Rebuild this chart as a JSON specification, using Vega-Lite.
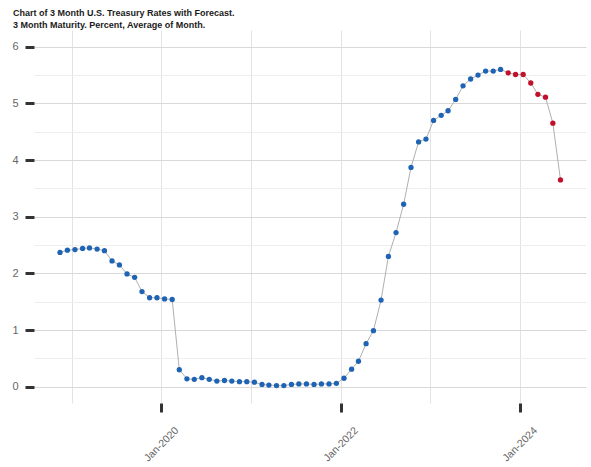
{
  "$schema": "https://vega.github.io/schema/vega-lite/v6.json",
  "width": 552,
  "height": 373,
  "autosize": {"type": "none"},
  "padding": {"left": 34, "top": 30, "right": 5, "bottom": 64},
  "title": {
    "text": ["Chart of 3 Month U.S. Treasury Rates with Forecast.", "3 Month Maturity. Percent, Average of Month."],
    "anchor": "start",
    "frame": "group",
    "font": "Liberation Sans",
    "fontSize": 9,
    "fontWeight": "bold",
    "color": "#1a1a1a",
    "lineHeight": 12,
    "dx": -21,
    "offset": 0
  },
  "config": {"view": {"stroke": null}, "font": "Liberation Sans"},
  "data": {
    "values": [
      {"date": "2018-11-15", "rate": 2.37, "type": "Actual"},
      {"date": "2018-12-15", "rate": 2.41, "type": "Actual"},
      {"date": "2019-01-15", "rate": 2.42, "type": "Actual"},
      {"date": "2019-02-15", "rate": 2.44, "type": "Actual"},
      {"date": "2019-03-15", "rate": 2.45, "type": "Actual"},
      {"date": "2019-04-15", "rate": 2.43, "type": "Actual"},
      {"date": "2019-05-15", "rate": 2.40, "type": "Actual"},
      {"date": "2019-06-15", "rate": 2.22, "type": "Actual"},
      {"date": "2019-07-15", "rate": 2.15, "type": "Actual"},
      {"date": "2019-08-15", "rate": 1.99, "type": "Actual"},
      {"date": "2019-09-15", "rate": 1.93, "type": "Actual"},
      {"date": "2019-10-15", "rate": 1.68, "type": "Actual"},
      {"date": "2019-11-15", "rate": 1.57, "type": "Actual"},
      {"date": "2019-12-15", "rate": 1.57, "type": "Actual"},
      {"date": "2020-01-15", "rate": 1.55, "type": "Actual"},
      {"date": "2020-02-15", "rate": 1.54, "type": "Actual"},
      {"date": "2020-03-15", "rate": 0.30, "type": "Actual"},
      {"date": "2020-04-15", "rate": 0.14, "type": "Actual"},
      {"date": "2020-05-15", "rate": 0.13, "type": "Actual"},
      {"date": "2020-06-15", "rate": 0.16, "type": "Actual"},
      {"date": "2020-07-15", "rate": 0.13, "type": "Actual"},
      {"date": "2020-08-15", "rate": 0.10, "type": "Actual"},
      {"date": "2020-09-15", "rate": 0.11, "type": "Actual"},
      {"date": "2020-10-15", "rate": 0.10, "type": "Actual"},
      {"date": "2020-11-15", "rate": 0.09, "type": "Actual"},
      {"date": "2020-12-15", "rate": 0.09, "type": "Actual"},
      {"date": "2021-01-15", "rate": 0.08, "type": "Actual"},
      {"date": "2021-02-15", "rate": 0.04, "type": "Actual"},
      {"date": "2021-03-15", "rate": 0.03, "type": "Actual"},
      {"date": "2021-04-15", "rate": 0.02, "type": "Actual"},
      {"date": "2021-05-15", "rate": 0.02, "type": "Actual"},
      {"date": "2021-06-15", "rate": 0.04, "type": "Actual"},
      {"date": "2021-07-15", "rate": 0.05, "type": "Actual"},
      {"date": "2021-08-15", "rate": 0.05, "type": "Actual"},
      {"date": "2021-09-15", "rate": 0.04, "type": "Actual"},
      {"date": "2021-10-15", "rate": 0.05, "type": "Actual"},
      {"date": "2021-11-15", "rate": 0.05, "type": "Actual"},
      {"date": "2021-12-15", "rate": 0.06, "type": "Actual"},
      {"date": "2022-01-15", "rate": 0.15, "type": "Actual"},
      {"date": "2022-02-15", "rate": 0.31, "type": "Actual"},
      {"date": "2022-03-15", "rate": 0.45, "type": "Actual"},
      {"date": "2022-04-15", "rate": 0.76, "type": "Actual"},
      {"date": "2022-05-15", "rate": 0.99, "type": "Actual"},
      {"date": "2022-06-15", "rate": 1.53, "type": "Actual"},
      {"date": "2022-07-15", "rate": 2.30, "type": "Actual"},
      {"date": "2022-08-15", "rate": 2.72, "type": "Actual"},
      {"date": "2022-09-15", "rate": 3.22, "type": "Actual"},
      {"date": "2022-10-15", "rate": 3.87, "type": "Actual"},
      {"date": "2022-11-15", "rate": 4.32, "type": "Actual"},
      {"date": "2022-12-15", "rate": 4.37, "type": "Actual"},
      {"date": "2023-01-15", "rate": 4.70, "type": "Actual"},
      {"date": "2023-02-15", "rate": 4.79, "type": "Actual"},
      {"date": "2023-03-15", "rate": 4.87, "type": "Actual"},
      {"date": "2023-04-15", "rate": 5.07, "type": "Actual"},
      {"date": "2023-05-15", "rate": 5.31, "type": "Actual"},
      {"date": "2023-06-15", "rate": 5.43, "type": "Actual"},
      {"date": "2023-07-15", "rate": 5.50, "type": "Actual"},
      {"date": "2023-08-15", "rate": 5.57, "type": "Actual"},
      {"date": "2023-09-15", "rate": 5.57, "type": "Actual"},
      {"date": "2023-10-15", "rate": 5.60, "type": "Actual"},
      {"date": "2023-11-15", "rate": 5.54, "type": "Forecast"},
      {"date": "2023-12-15", "rate": 5.51, "type": "Forecast"},
      {"date": "2024-01-15", "rate": 5.51, "type": "Forecast"},
      {"date": "2024-02-15", "rate": 5.36, "type": "Forecast"},
      {"date": "2024-03-15", "rate": 5.16, "type": "Forecast"},
      {"date": "2024-04-15", "rate": 5.11, "type": "Forecast"},
      {"date": "2024-05-15", "rate": 4.65, "type": "Forecast"},
      {"date": "2024-06-15", "rate": 3.65, "type": "Forecast"}
    ]
  },
  "encoding": {
    "x": {
      "field": "date",
      "type": "temporal",
      "scale": {
        "type": "utc",
        "domain": [
          {"year": 2018, "month": 8, "date": 1, "utc": true},
          {"year": 2024, "month": 9, "date": 27, "utc": true}
        ]
      },
      "axis": {
        "values": [
          {"year": 2019, "month": 1, "date": 1, "utc": true},
          {"year": 2020, "month": 1, "date": 1, "utc": true},
          {"year": 2021, "month": 1, "date": 1, "utc": true},
          {"year": 2022, "month": 1, "date": 1, "utc": true},
          {"year": 2023, "month": 1, "date": 1, "utc": true},
          {"year": 2024, "month": 1, "date": 1, "utc": true}
        ],
        "labelExpr": "utcyear(datum.value) % 2 == 0 ? 'Jan-' + utcyear(datum.value) : ''",
        "labelAngle": -45,
        "labelAlign": "center",
        "labelBaseline": "middle",
        "labelPadding": 32,
        "labelFontSize": 10.5,
        "labelColor": "#666666",
        "labelOverlap": false,
        "labelFlush": false,
        "tickSize": 9,
        "tickWidth": 3,
        "tickColor": "#333333",
        "tickOpacity": {"condition": {"test": "utcyear(datum.value) % 2 == 0", "value": 1}, "value": 0},
        "domain": false,
        "grid": true,
        "gridColor": "#e3e3e3",
        "title": null
      }
    },
    "y": {
      "field": "rate",
      "type": "quantitative",
      "scale": {"domain": [-0.287, 6.295], "nice": false, "zero": false},
      "axis": {
        "values": [0, 0.5, 1, 1.5, 2, 2.5, 3, 3.5, 4, 4.5, 5, 5.5, 6],
        "labelExpr": "datum.value % 1 == 0 ? format(datum.value, 'd') : ''",
        "labelPadding": 7,
        "labelFontSize": 11,
        "labelColor": "#666666",
        "tickSize": 9,
        "tickWidth": 3,
        "tickColor": "#333333",
        "tickOpacity": {"condition": {"test": "datum.value % 1 == 0", "value": 1}, "value": 0},
        "gridColor": {"condition": {"test": "datum.value % 1 == 0", "value": "#d9d9d9"}, "value": "#eeeeee"},
        "domain": false,
        "grid": true,
        "title": null
      }
    }
  },
  "layer": [
    {"mark": {"type": "line", "color": "#b0b0b0", "strokeWidth": 1}},
    {
      "mark": {"type": "point", "filled": true, "size": 28, "opacity": 1},
      "encoding": {
        "color": {
          "field": "type",
          "type": "nominal",
          "scale": {"domain": ["Actual", "Forecast"], "range": ["#1f64b4", "#c0102c"]},
          "legend": null
        }
      }
    }
  ]
}
